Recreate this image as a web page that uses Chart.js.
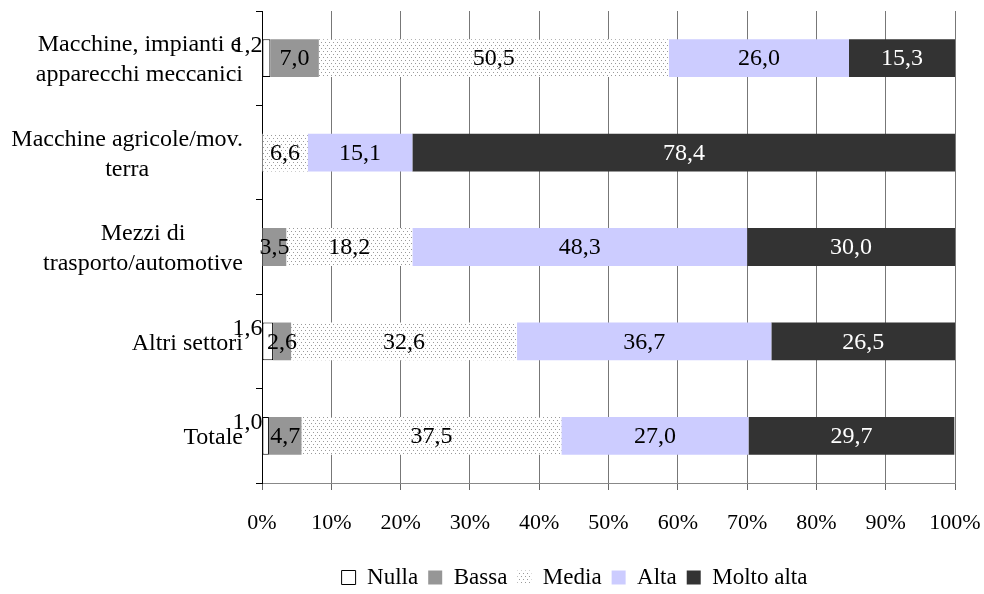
<!DOCTYPE html>
<html lang="it">
<head>
<meta charset="utf-8">
<title>Importanza per settore</title>
<script src="https://cdn.jsdelivr.net/npm/chart.js@4.4.1/dist/chart.umd.min.js"></script>
<style>
    html, body { margin: 0; padding: 0; background: #fff; }
    #wrap { width: 984px; height: 594px; }
</style>
</head>
<body>
<div id="wrap"><canvas id="settoriChart" width="984" height="594"></canvas></div>
<script>
// Sectors, top to bottom
const categories = [
    ['Macchine, impianti e', 'apparecchi meccanici'],
    ['Macchine agricole/mov.', 'terra'],
    ['Mezzi di', 'trasporto/automotive'],
    ['Altri settori'],
    ['Totale']
];

// Share of answers per level (%)
const nulla     = [1.2, 0,    0,    1.6,  1.0];
const bassa     = [7.0, 0,    3.5,  2.6,  4.7];
const media     = [50.5, 6.6, 18.2, 32.6, 37.5];
const alta      = [26.0, 15.1, 48.3, 36.7, 27.0];
const moltoAlta = [15.3, 78.4, 30.0, 26.5, 29.7];

const seriesNames = ['Nulla', 'Bassa', 'Media', 'Alta', 'Molto alta'];
const xTicks = [0, 10, 20, 30, 40, 50, 60, 70, 80, 90, 100];

const FONT = "'Liberation Serif', 'Times New Roman', serif";

document.addEventListener('DOMContentLoaded', () => {
    // Dotted fill used for "Media"
    const makeDots = () => {
        const c = document.createElement('canvas');
        c.width = 4;
        c.height = 6;
        const g = c.getContext('2d');
        g.fillStyle = '#fff';
        g.fillRect(0, 0, 4, 6);
        g.fillStyle = '#9a9a9a';
        g.fillRect(1, 0, 1, 1);
        g.fillRect(3, 3, 1, 1);
        return g.createPattern(c, 'repeat');
    };
    const dots = makeDots();

    const fmt = v => v.toFixed(1).replace('.', ',');

    // Value labels inside each segment
    const segmentLabels = {
        id: 'segmentLabels',
        afterDatasetsDraw(chart) {
            const ctx = chart.ctx;
            ctx.save();
            ctx.font = '24px ' + FONT;
            ctx.textBaseline = 'middle';
            chart.data.datasets.forEach((ds, di) => {
                const meta = chart.getDatasetMeta(di);
                meta.data.forEach((bar, i) => {
                    const v = ds.data[i];
                    if (!v) return;
                    const left = Math.min(bar.x, bar.base);
                    const right = Math.max(bar.x, bar.base);
                    const cx = (left + right) / 2;
                    ctx.fillStyle = ds.labelColor || '#000';
                    if (v < 2 && di === 0) {
                        // tiny slice: label sits just outside, top-left
                        ctx.textAlign = 'right';
                        ctx.fillText(fmt(v), left, bar.y - bar.height / 2 + 6);
                    } else {
                        ctx.textAlign = 'center';
                        ctx.fillText(fmt(v), cx, bar.y + 1);
                    }
                });
            });
            ctx.restore();
        }
    };

    // Category names: each block right-aligned, lines centred inside it
    const categoryLabels = {
        id: 'categoryLabels',
        afterDraw(chart) {
            const ctx = chart.ctx;
            const yScale = chart.scales.y;
            const rightEdge = yScale.right - 19;
            const lineH = 30;
            ctx.save();
            ctx.font = '24px ' + FONT;
            ctx.fillStyle = '#000';
            ctx.textAlign = 'center';
            ctx.textBaseline = 'middle';
            categories.forEach((lines, i) => {
                const widest = Math.max(...lines.map(l => ctx.measureText(l).width));
                const cx = rightEdge - widest / 2;
                const cy = yScale.getPixelForValue(i) + 2;
                const y0 = cy - (lines.length - 1) * lineH / 2;
                lines.forEach((l, k) => ctx.fillText(l, cx, y0 + k * lineH));
            });
            ctx.restore();
        }
    };

    // Legend sits a bit to the right of the canvas centre
    const legendShift = {
        id: 'legendShift',
        afterLayout(chart) {
            if (chart.legend) {
                chart.legend.left += 97;
                chart.legend.right += 97;
            }
        }
    };

    const makeSet = (label, data, bg, extra) => Object.assign({
        label: label,
        data: data,
        backgroundColor: bg,
        borderWidth: 0,
        barPercentage: 0.4,
        categoryPercentage: 1.0
    }, extra || {});

    const ctx = document.getElementById('settoriChart').getContext('2d');
    new Chart(ctx, {
        type: 'bar',
        data: {
            labels: categories.map(c => c.join(' ')),
            datasets: [
                makeSet(seriesNames[0], nulla, '#ffffff', { borderColor: '#000', borderWidth: 1, borderSkipped: false }),
                makeSet(seriesNames[1], bassa, '#969696'),
                makeSet(seriesNames[2], media, dots),
                makeSet(seriesNames[3], alta, '#ccccff'),
                makeSet(seriesNames[4], moltoAlta, '#333333', { labelColor: '#ffffff' })
            ]
        },
        options: {
            indexAxis: 'y',
            responsive: false,
            animation: false,
            devicePixelRatio: 1,
            layout: { padding: { top: 11, right: 29, left: 0, bottom: -5 } },
            scales: {
                x: {
                    stacked: true,
                    min: 0,
                    max: 100,
                    afterBuildTicks: scale => { scale.ticks = xTicks.map(v => ({ value: v })); },
                    afterFit: scale => {
                        scale.height = 73;
                        scale.paddingLeft = 0;
                        scale.paddingRight = 0;
                    },
                    ticks: {
                        callback: v => v + '%',
                        color: '#000',
                        font: { family: FONT, size: 22 },
                        padding: 20,
                        maxRotation: 0
                    },
                    grid: {
                        color: '#777',
                        lineWidth: 1,
                        tickLength: 7,
                        tickColor: '#666'
                    },
                    border: { display: true, color: '#888', width: 1 }
                },
                y: {
                    stacked: true,
                    afterFit: scale => { scale.width = 262; },
                    ticks: { display: false },
                    grid: {
                        offset: true,
                        drawOnChartArea: false,
                        tickLength: 6,
                        tickColor: '#000'
                    },
                    border: { display: true, color: '#000', width: 1 }
                }
            },
            plugins: {
                tooltip: { enabled: false },
                legend: {
                    position: 'bottom',
                    labels: {
                        color: '#000',
                        font: { family: FONT, size: 23 },
                        boxWidth: 14,
                        boxHeight: 14,
                        padding: 10
                    }
                }
            }
        },
        plugins: [segmentLabels, categoryLabels, legendShift]
    });
});
</script>
</body>
</html>
